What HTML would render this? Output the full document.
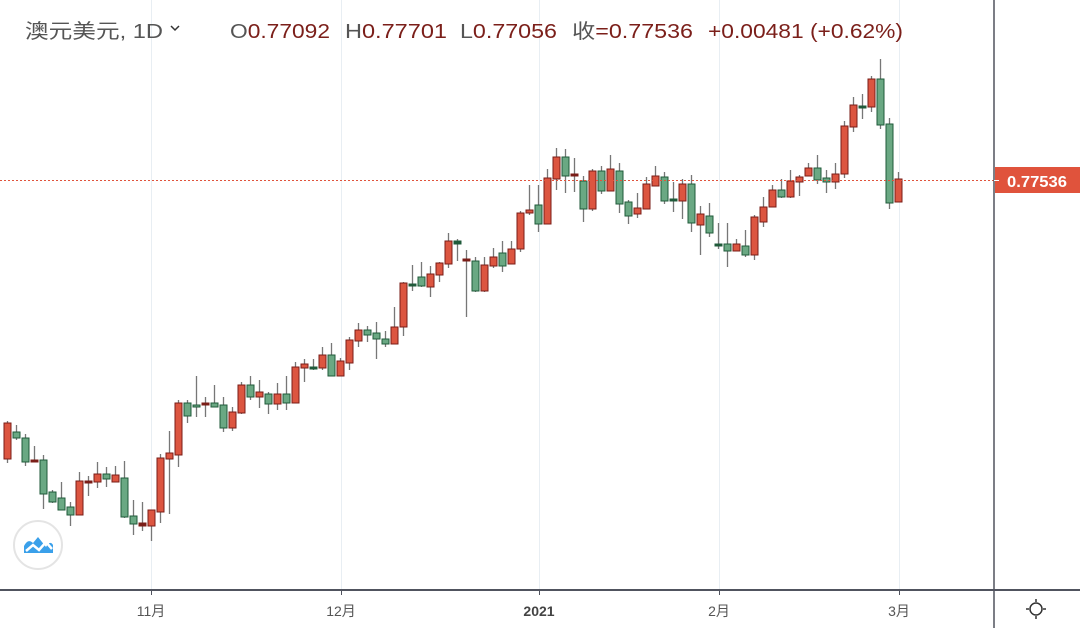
<!DOCTYPE html>
<html><head><meta charset="utf-8"><style>
html,body{margin:0;padding:0;background:#fff;width:1080px;height:628px;overflow:hidden}
svg{display:block;font-family:"Liberation Sans","Noto Sans CJK SC",sans-serif}
</style></head><body>
<svg id="s" width="1080" height="628" viewBox="0 0 1080 628">
<rect width="1080" height="628" fill="#fff"/>
<g stroke="#e8eef3" stroke-width="1">
<line x1="151.5" y1="0" x2="151.5" y2="590"/>
<line x1="341.5" y1="0" x2="341.5" y2="590"/>
<line x1="539.5" y1="0" x2="539.5" y2="590"/>
<line x1="719.5" y1="0" x2="719.5" y2="590"/>
<line x1="899.5" y1="0" x2="899.5" y2="590"/>
</g>
<g id="c"></g>
<line x1="0" y1="180.5" x2="994" y2="180.5" stroke="#e0533c" stroke-width="1" stroke-dasharray="2,2"/>
<line x1="0" y1="590" x2="1080" y2="590" stroke="#50535e" stroke-width="2"/>
<line x1="994" y1="0" x2="994" y2="628" stroke="#50535e" stroke-width="1.5"/>
<g stroke="#50535e"><line x1="151.5" y1="590" x2="151.5" y2="595"/><line x1="341.5" y1="590" x2="341.5" y2="595"/><line x1="539.5" y1="590" x2="539.5" y2="595"/><line x1="719.5" y1="590" x2="719.5" y2="595"/><line x1="899.5" y1="590" x2="899.5" y2="595"/></g>
<g font-size="14" fill="#555" text-anchor="middle">
<text x="151" y="616">11月</text><text x="341" y="616">12月</text>
<text x="539" y="616" font-weight="bold" fill="#444">2021</text>
<text x="719" y="616">2月</text><text x="899" y="616">3月</text>
</g>
<rect x="995" y="167" width="85" height="26" fill="#e0533c"/>
<line x1="994" y1="180.5" x2="999" y2="180.5" stroke="#fff"/>
<text x="1007" y="187" font-size="16" font-weight="bold" fill="#fff" textLength="60" lengthAdjust="spacingAndGlyphs">0.77536</text>
<g stroke="#333" stroke-width="1.5" fill="none"><circle cx="1036" cy="609" r="6"/><line x1="1036" y1="599" x2="1036" y2="602"/><line x1="1036" y1="616" x2="1036" y2="619"/><line x1="1026" y1="609" x2="1029" y2="609"/><line x1="1043" y1="609" x2="1046" y2="609"/></g>
<circle cx="38" cy="545" r="24" fill="#fff" stroke="#e4e4e4" stroke-width="2"/>
<path d="M24 553 L24 546 Q28 538 33 543 L38 537 L46 547 Q50 540 53 545 L53 553 Z" fill="#3aa0ea"/>
<path d="M26 551 L33 545 L39 550 L46 542 L52 549" stroke="#fff" stroke-width="2.5" fill="none"/>
<text x="25" y="38" font-size="20" fill="#555" textLength="138" lengthAdjust="spacingAndGlyphs">澳元美元, 1D</text>
<path d="M171 26 L175 30 L179 26" stroke="#333" stroke-width="1.5" fill="none"/>
<g font-size="20" fill="#555">
<text x="230" y="38" textLength="100" lengthAdjust="spacingAndGlyphs">O<tspan fill="#7b1f1a">0.77092</tspan></text>
<text x="345" y="38" textLength="102" lengthAdjust="spacingAndGlyphs">H<tspan fill="#7b1f1a">0.77701</tspan></text>
<text x="460" y="38" textLength="97" lengthAdjust="spacingAndGlyphs">L<tspan fill="#7b1f1a">0.77056</tspan></text>
<text x="572" y="38" textLength="121" lengthAdjust="spacingAndGlyphs">收<tspan fill="#7b1f1a">=0.77536</tspan></text>
<text x="708" y="38" fill="#7b1f1a" textLength="195" lengthAdjust="spacingAndGlyphs">+0.00481 (+0.62%)</text>
</g>
</svg>
<script>
var d=[[7,421,463,423,459,'r'],[16,425,440,432,438,'g'],[25,434,466,438,462,'g'],[34,446,462,460,462,'R'],[43,455,509,460,494,'g'],[52,490,503,492,502,'g'],[61,482,510,498,510,'g'],[70,502,526,507,515,'g'],[79,472,515,481,515,'r'],[88,476,496,481,483,'R'],[97,462,488,474,482,'r'],[106,467,487,474,479,'g'],[115,466,482,475,482,'r'],[124,461,518,478,517,'g'],[133,500,535,516,524,'g'],[142,502,531,523,526,'R'],[151,510,541,510,526,'r'],[160,454,523,458,512,'r'],[169,431,514,453,459,'r'],[178,400,467,403,455,'r'],[187,400,423,403,416,'g'],[196,376,417,405,407,'g'],[205,397,417,403,405,'R'],[214,385,407,403,407,'g'],[223,397,432,405,428,'g'],[232,407,431,412,428,'r'],[241,382,414,385,413,'r'],[250,376,400,385,397,'g'],[259,380,408,392,397,'r'],[268,392,414,394,404,'g'],[277,383,410,394,404,'r'],[286,376,410,394,403,'g'],[295,362,403,367,403,'r'],[304,359,382,364,368,'r'],[313,359,370,367,369,'G'],[322,347,370,355,368,'r'],[331,343,376,355,376,'g'],[340,358,376,361,376,'r'],[349,337,370,340,363,'r'],[358,323,347,330,341,'r'],[367,326,342,330,335,'g'],[376,322,359,333,339,'g'],[385,331,347,339,344,'g'],[394,307,344,327,344,'r'],[403,282,336,283,327,'r'],[412,265,291,284,286,'G'],[421,262,287,277,286,'g'],[430,266,297,274,287,'r'],[439,262,282,263,275,'r'],[448,233,268,241,264,'r'],[457,239,261,241,244,'G'],[466,250,317,259,261,'R'],[475,257,292,261,291,'g'],[484,257,292,265,291,'r'],[493,248,268,257,266,'r'],[502,241,272,253,266,'g'],[511,241,264,249,264,'r'],[520,211,252,213,249,'r'],[529,185,215,210,213,'r'],[538,185,232,205,224,'g'],[547,169,224,178,224,'r'],[556,148,190,157,179,'r'],[565,149,193,157,176,'g'],[574,158,192,174,176,'R'],[583,176,222,181,209,'g'],[592,169,211,171,209,'r'],[601,166,194,171,191,'g'],[610,155,191,169,191,'r'],[619,163,213,171,204,'g'],[628,200,224,202,216,'g'],[637,193,218,208,214,'r'],[646,177,209,184,209,'r'],[655,166,186,176,186,'r'],[664,172,204,177,201,'g'],[673,182,212,199,201,'G'],[682,179,219,184,201,'r'],[691,175,232,184,223,'g'],[700,206,255,214,225,'r'],[709,203,237,216,233,'g'],[718,223,249,244,245,'G'],[727,223,267,244,251,'g'],[736,239,251,244,251,'r'],[745,230,257,246,255,'g'],[754,215,260,217,255,'r'],[763,197,227,207,222,'r'],[772,185,207,190,207,'r'],[781,179,198,190,197,'g'],[790,170,198,181,197,'r'],[799,175,196,177,182,'r'],[808,163,176,168,176,'r'],[817,155,184,168,180,'g'],[826,170,193,178,182,'g'],[835,163,189,174,182,'r'],[844,121,178,126,174,'r'],[853,97,132,105,127,'r'],[862,94,119,106,107,'G'],[871,76,112,79,107,'r'],[880,59,129,79,125,'g'],[889,118,209,124,203,'g'],[898,172,202,179,202,'r']];
var h='';
d.forEach(function(c){var x=c[0];
h+='<line x1="'+(x+.5)+'" y1="'+c[1]+'" x2="'+(x+.5)+'" y2="'+c[2]+'" stroke="#777" stroke-width="1.3"/>';
var t=c[5],f,s;
if(t=='r'){f='#dc5540';s='#7a1d17'}else if(t=='g'){f='#6aa883';s='#1f5a3a'}else if(t=='R'){f='#7a1d17';s='#7a1d17'}else{f='#1f5a3a';s='#1f5a3a'}
var hh=Math.max(c[4]-c[3],2);
h+='<rect x="'+(x-3)+'" y="'+c[3]+'" width="7" height="'+hh+'" fill="'+f+'" stroke="'+s+'" stroke-width="1"/>';
});
document.getElementById('c').innerHTML=h;
</script>
</body></html>
